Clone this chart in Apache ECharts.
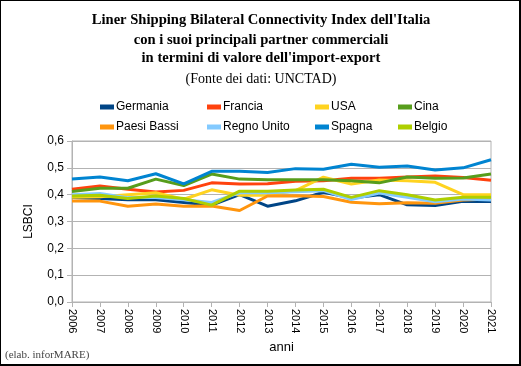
<!DOCTYPE html>
<html><head><meta charset="utf-8">
<script src="https://cdn.jsdelivr.net/npm/echarts@6/dist/echarts.min.js"></script>
<style>html,body{margin:0;padding:0;background:#fff}#c{width:521px;height:366px;box-sizing:border-box;border:1px solid #000;border-right-width:2px;border-bottom-width:2px}</style>
</head><body><div id="c"></div>
<script>
const years = ['2006','2007','2008','2009','2010','2011','2012','2013','2014','2015','2016','2017','2018','2019','2020','2021'];
const yTicks = ['0,0','0,1','0,2','0,3','0,4','0,5','0,6'];
const titleLines = ["Liner Shipping Bilateral Connectivity Index dell'Italia","con i suoi principali partner commerciali","in termini di valore dell'import-export"];
const germania   = [0.389,0.386,0.381,0.381,0.371,0.361,0.400,0.357,0.377,0.409,0.388,0.400,0.362,0.360,0.375,0.375];
const francia    = [0.420,0.432,0.420,0.410,0.416,0.444,0.440,0.441,0.450,0.452,0.461,0.461,0.466,0.470,0.464,0.454];
const usa        = [0.390,0.392,0.400,0.407,0.383,0.418,0.398,0.398,0.415,0.465,0.440,0.455,0.452,0.446,0.400,0.400];
const cina       = [0.412,0.424,0.424,0.458,0.434,0.477,0.458,0.456,0.456,0.456,0.452,0.444,0.466,0.461,0.462,0.477];
const paesiBassi = [0.376,0.376,0.357,0.365,0.357,0.358,0.341,0.395,0.396,0.393,0.372,0.366,0.370,0.368,0.380,0.384];
const regnoUnito = [0.400,0.404,0.389,0.389,0.381,0.371,0.407,0.407,0.411,0.415,0.382,0.406,0.390,0.374,0.384,0.380];
const spagna     = [0.458,0.466,0.452,0.478,0.440,0.487,0.487,0.483,0.497,0.495,0.513,0.502,0.507,0.492,0.500,0.530];
const belgio     = [0.395,0.398,0.386,0.395,0.386,0.361,0.413,0.413,0.417,0.420,0.390,0.415,0.400,0.380,0.390,0.390];

const names = ['Germania','Francia','USA','Cina','Paesi Bassi','Regno Unito','Spagna','Belgio'];
const colors = ['#004586','#ff420e','#ffd320','#579d1c','#ff950e','#83caff','#0084d1','#aecf00'];
const data = [germania,francia,usa,cina,paesiBassi,regnoUnito,spagna,belgio];

const chart = echarts.init(document.getElementById('c'), null, {renderer:'canvas'});
const sans = '"Liberation Sans", Arial, sans-serif';
const serif = '"Liberation Serif", "Times New Roman", serif';
const legendX = [94, 201, 309, 392];
const legends = names.map((n,i)=>({
  data:[n], left: legendX[i%4], top: i<4 ? 95 : 115,
  itemWidth:14, itemHeight:5, itemGap:0, icon:'rect',
  textStyle:{fontFamily:sans, fontSize:12, color:'#000', padding:[0,0,0,-3]}
}));
const titleTops = [12, 32, 50];
const titles = titleLines.map((t,i)=>({
  text:t, left:260, textAlign:'center', top:titleTops[i], padding:0,
  textStyle:{fontFamily:serif, fontSize:14.6, fontWeight:'bold', color:'#000'}
}));
titles.push({text:'(Fonte dei dati: UNCTAD)', left:260, textAlign:'center', top:71, padding:0,
     textStyle:{fontFamily:serif, fontSize:14, fontWeight:'normal', color:'#000'}});
titles.push({text:'(elab. inforMARE)', left:4, top:349, padding:0,
     textStyle:{fontFamily:serif, fontSize:11, fontWeight:'normal', color:'#444'}});
chart.setOption({
  animation:false,
  color: colors,
  title: titles,
  legend: legends,
  grid:{left:71, right:28, top:140, bottom:62, show:true, borderColor:'#b3b3b3', borderWidth:1, backgroundColor:'transparent'},
  xAxis:{
    type:'category', data:years, boundaryGap:false,
    name:'anni', nameLocation:'middle', nameGap:39,
    nameTextStyle:{fontFamily:sans, fontSize:13, color:'#000'},
    axisLine:{lineStyle:{color:'#b3b3b3'}},
    axisTick:{show:true, length:5, lineStyle:{color:'#b3b3b3'}},
    axisLabel:{rotate:-90, fontFamily:sans, fontSize:11, color:'#000', margin:7},
    splitLine:{show:false}
  },
  yAxis:{
    type:'value', min:0, max:0.6, interval:0.1,
    name:'LSBCI', nameLocation:'middle', nameGap:37, nameRotate:90,
    nameTextStyle:{fontFamily:sans, fontSize:12, color:'#000'},
    axisLine:{show:true, lineStyle:{color:'#b3b3b3'}},
    axisTick:{show:true, length:5, lineStyle:{color:'#b3b3b3'}},
    axisLabel:{fontFamily:sans, fontSize:12, color:'#000', margin:8,
      formatter:(v)=>yTicks[Math.round(v*10)]},
    splitLine:{show:true, lineStyle:{color:'#b3b3b3', width:1}}
  },
  series: names.map((n,i)=>({
    name:n, type:'line', data:data[i], showSymbol:false, symbol:'none',
    lineStyle:{width:3, color:colors[i]}, itemStyle:{color:colors[i]}, z:2+i
  }))
});
</script></body></html>
